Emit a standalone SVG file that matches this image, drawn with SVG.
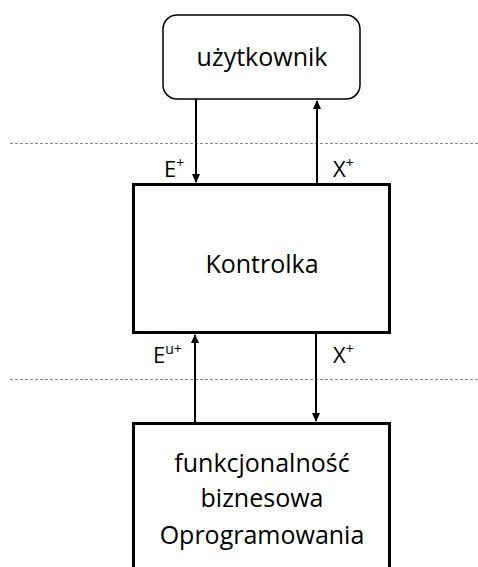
<svg xmlns="http://www.w3.org/2000/svg" width="478" height="567" viewBox="0 0 478 567">
<style>
text{font-family:"Open Sans","Liberation Sans",sans-serif;fill:#000}
.big{font-size:25px;text-anchor:middle}
.lbl{font-size:22px}
.sup{font-size:14px}
.arr{stroke:#000;stroke-width:2;fill:none}
.dash{stroke:#888;stroke-width:1;stroke-dasharray:3,2;fill:none}
</style>
<defs>
<marker id="ah" markerWidth="10" markerHeight="10" refX="8" refY="5" orient="auto" markerUnits="userSpaceOnUse">
<path d="M0,1 L9,5 L0,9 Z" fill="#000"/>
</marker>
</defs>
<rect width="478" height="567" fill="#fff"/>
<g id="separators">
<line class="dash" x1="10" y1="143.5" x2="478" y2="143.5"/>
<line class="dash" x1="10" y1="379.5" x2="478" y2="379.5"/>
</g>
<g id="uzytkownik">
<rect x="163" y="15" width="197" height="84" rx="14" fill="#fff" stroke="#000" stroke-width="1.5"/>
<text class="big" x="262" y="66">użytkownik</text>
</g>
<g id="kontrolka">
<rect x="133.5" y="184.5" width="256" height="148" fill="#fff" stroke="#000" stroke-width="3"/>
<text class="big" x="262" y="273">Kontrolka</text>
</g>
<g id="funkcjonalnosc">
<rect x="133.5" y="423.5" width="256" height="160" fill="#fff" stroke="#000" stroke-width="3"/>
<text class="big" x="262" y="472">funkcjonalność</text>
<text class="big" x="262" y="507">biznesowa</text>
<text class="big" x="262" y="544">Oprogramowania</text>
</g>
<g id="connectors">
<line class="arr" x1="196" y1="99" x2="196" y2="182" marker-end="url(#ah)"/>
<line class="arr" x1="317" y1="183" x2="317" y2="101" marker-end="url(#ah)"/>
<line class="arr" x1="195" y1="422" x2="195" y2="335" marker-end="url(#ah)"/>
<line class="arr" x1="316" y1="334" x2="316" y2="421" marker-end="url(#ah)"/>
</g>
<g id="labels">
<text class="lbl" x="164" y="177">E<tspan class="sup" dy="-9">+</tspan></text>
<text class="lbl" x="333" y="177">X<tspan class="sup" dy="-9">+</tspan></text>
<text class="lbl" x="153" y="363">E<tspan class="sup" dy="-9">u+</tspan></text>
<text class="lbl" x="333" y="363">X<tspan class="sup" dy="-9">+</tspan></text>
</g>
</svg>
